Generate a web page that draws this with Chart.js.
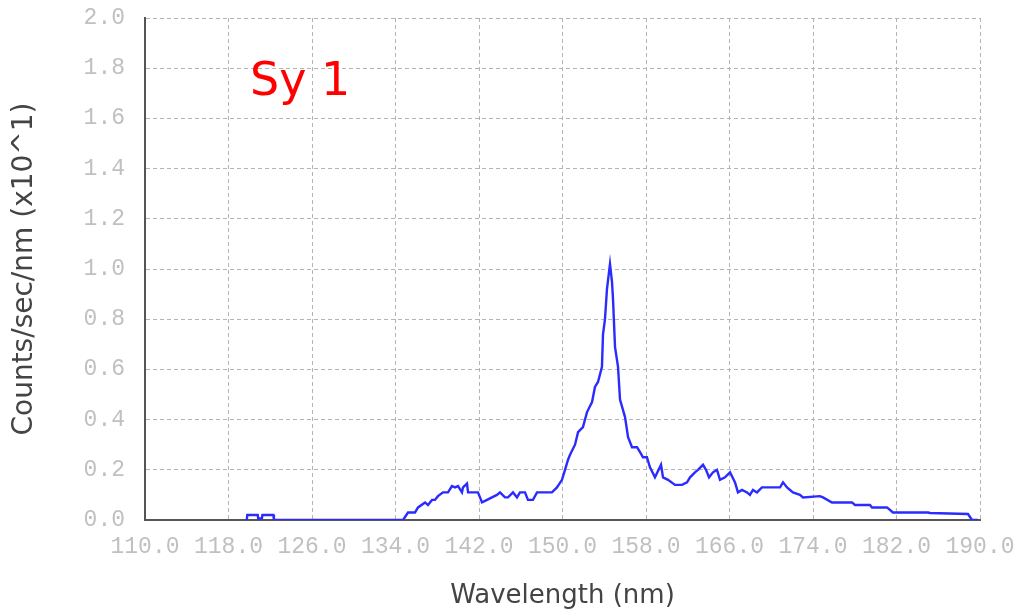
<!DOCTYPE html>
<html>
<head>
<meta charset="utf-8">
<script src="https://cdn.jsdelivr.net/npm/chart.js@4/dist/chart.umd.min.js"></script>
<style>
  html, body { margin: 0; padding: 0; background: #fff; }
  #wrap { width: 1018px; height: 612px; position: relative; }
</style>
</head>
<body>
<div id="wrap"><canvas id="spec"></canvas></div>
<script>
// spectrum: wavelength (nm) and counts/sec/nm (x10^1)
const wavelength = [
  119.75, 119.8, 120.8, 120.85, 121.2, 121.25, 122.3, 122.35,
  134.72, 135.2, 135.87, 136.16, 136.83, 137.11, 137.5, 137.78, 138.07, 138.55,
  139.03, 139.41, 139.7, 139.99, 140.37, 140.47, 140.85, 140.95, 141.33, 141.9,
  142.29, 142.77, 143.24, 143.72, 144.01, 144.49, 144.78, 145.26, 145.64, 145.93,
  146.41, 146.69, 147.17, 147.56, 148.04, 148.51, 148.99, 149.47, 149.95, 150.24,
  150.53, 150.72, 151.2, 151.49, 151.96, 152.35, 152.83, 153.11, 153.4, 153.78,
  153.88, 154.07, 154.26, 154.55, 154.74, 154.84, 155.03, 155.32, 155.51, 155.99,
  156.28, 156.66, 157.14, 157.43, 157.71, 158.09, 158.38, 158.86, 159.44, 159.63,
  160.11, 160.78, 161.45, 161.93, 162.22, 162.69, 162.98, 163.46, 163.75, 164.04,
  164.42, 164.8, 165.09, 165.57, 166.05, 166.53, 166.81, 167.2, 167.68, 167.96,
  168.25, 168.63, 169.11, 170.84, 171.13, 171.51, 172.08, 172.75, 173.04, 174.67,
  174.96, 175.82, 177.74, 178.02, 179.46, 179.65, 181.09, 181.66, 185.02, 185.21,
  188.85, 189.23, 189.81
];
const counts = [
  0.0, 0.02, 0.02, 0.006, 0.006, 0.02, 0.02, 0.0,
  0.0, 0.03, 0.03, 0.05, 0.07, 0.06, 0.08, 0.08, 0.095, 0.11,
  0.11, 0.135, 0.13, 0.135, 0.11, 0.13, 0.145, 0.11, 0.11, 0.11,
  0.07, 0.08, 0.09, 0.10, 0.11, 0.09, 0.09, 0.11, 0.09, 0.11,
  0.11, 0.08, 0.08, 0.11, 0.11, 0.11, 0.11, 0.13, 0.16, 0.20,
  0.24, 0.26, 0.30, 0.35, 0.37, 0.43, 0.47, 0.53, 0.55, 0.61,
  0.74, 0.80, 0.92, 1.02, 0.95, 0.88, 0.69, 0.61, 0.48, 0.41,
  0.33, 0.29, 0.29, 0.27, 0.25, 0.25, 0.21, 0.17, 0.22, 0.17,
  0.16, 0.14, 0.14, 0.15, 0.17, 0.19, 0.20, 0.22, 0.20, 0.17,
  0.19, 0.20, 0.16, 0.17, 0.19, 0.15, 0.11, 0.12, 0.11, 0.10,
  0.12, 0.11, 0.13, 0.13, 0.15, 0.13, 0.11, 0.10, 0.09, 0.095,
  0.09, 0.07, 0.07, 0.06, 0.06, 0.05, 0.05, 0.03, 0.03, 0.028,
  0.024, 0.0, 0.0
];
const xTicks = [110, 118, 126, 134, 142, 150, 158, 166, 174, 182, 190];
const yTicks = [0, 0.2, 0.4, 0.6, 0.8, 1.0, 1.2, 1.4, 1.6, 1.8, 2.0];
const label = 'Sy 1';

const points = wavelength.map((w, i) => ({ x: w, y: counts[i] }));

// red object name inside the plot
const labelPlugin = {
  id: 'objLabel',
  afterDraw(chart) {
    const ctx = chart.ctx;
    ctx.save();
    ctx.font = '46px "DejaVu Sans"';
    ctx.fillStyle = '#ff0000';
    ctx.textBaseline = 'alphabetic';
    ctx.fillText(label, 250, 95);
    ctx.restore();
  }
};

const tickFont = { family: '"Liberation Mono", monospace', size: 23 };

new Chart(document.getElementById('spec'), {
  type: 'line',
  data: {
    datasets: [{
      data: points,
      borderColor: '#2b2bff',
      borderWidth: 2.4,
      pointRadius: 0,
      tension: 0,
      fill: false
    }]
  },
  options: {
    responsive: true,
    maintainAspectRatio: false,
    animation: false,
    layout: { padding: { top: 18, right: 38, bottom: 0, left: 0 } },
    plugins: { legend: { display: false }, tooltip: { enabled: false } },
    scales: {
      x: {
        type: 'linear',
        min: xTicks[0],
        max: xTicks[xTicks.length - 1],
        afterBuildTicks: s => { s.ticks = xTicks.map(v => ({ value: v })); },
        afterFit: s => { s.height = 92; s.paddingLeft = 0; s.paddingRight = 0; },
        ticks: {
          color: '#c0c0c0',
          font: tickFont,
          padding: 13,
          maxRotation: 0,
          autoSkip: false,
          callback: v => v.toFixed(1)
        },
        grid: { color: '#b4b4b4', lineWidth: 1, drawTicks: false },
        border: { color: '#555', width: 2, dash: [4, 3] },
        title: {
          display: true,
          text: 'Wavelength (nm)',
          color: '#444',
          font: { family: '"DejaVu Sans"', size: 26 },
          padding: { top: 0, bottom: 0 }
        }
      },
      y: {
        min: 0,
        max: 2,
        afterBuildTicks: s => { s.ticks = yTicks.map(v => ({ value: v })); },
        afterFit: s => { s.width = 145; s.paddingTop = 0; s.paddingBottom = 0; },
        ticks: {
          color: '#c0c0c0',
          font: tickFont,
          padding: 20,
          callback: v => v.toFixed(1)
        },
        grid: { color: '#b4b4b4', lineWidth: 1, drawTicks: false },
        border: { color: '#555', width: 2, dash: [4, 3] },
        title: {
          display: true,
          text: 'Counts/sec/nm (x10^1)',
          color: '#444',
          font: { family: '"DejaVu Sans"', size: 28 },
          padding: { top: 8, bottom: 0 }
        }
      }
    }
  },
  plugins: [labelPlugin]
});
</script>
</body>
</html>
